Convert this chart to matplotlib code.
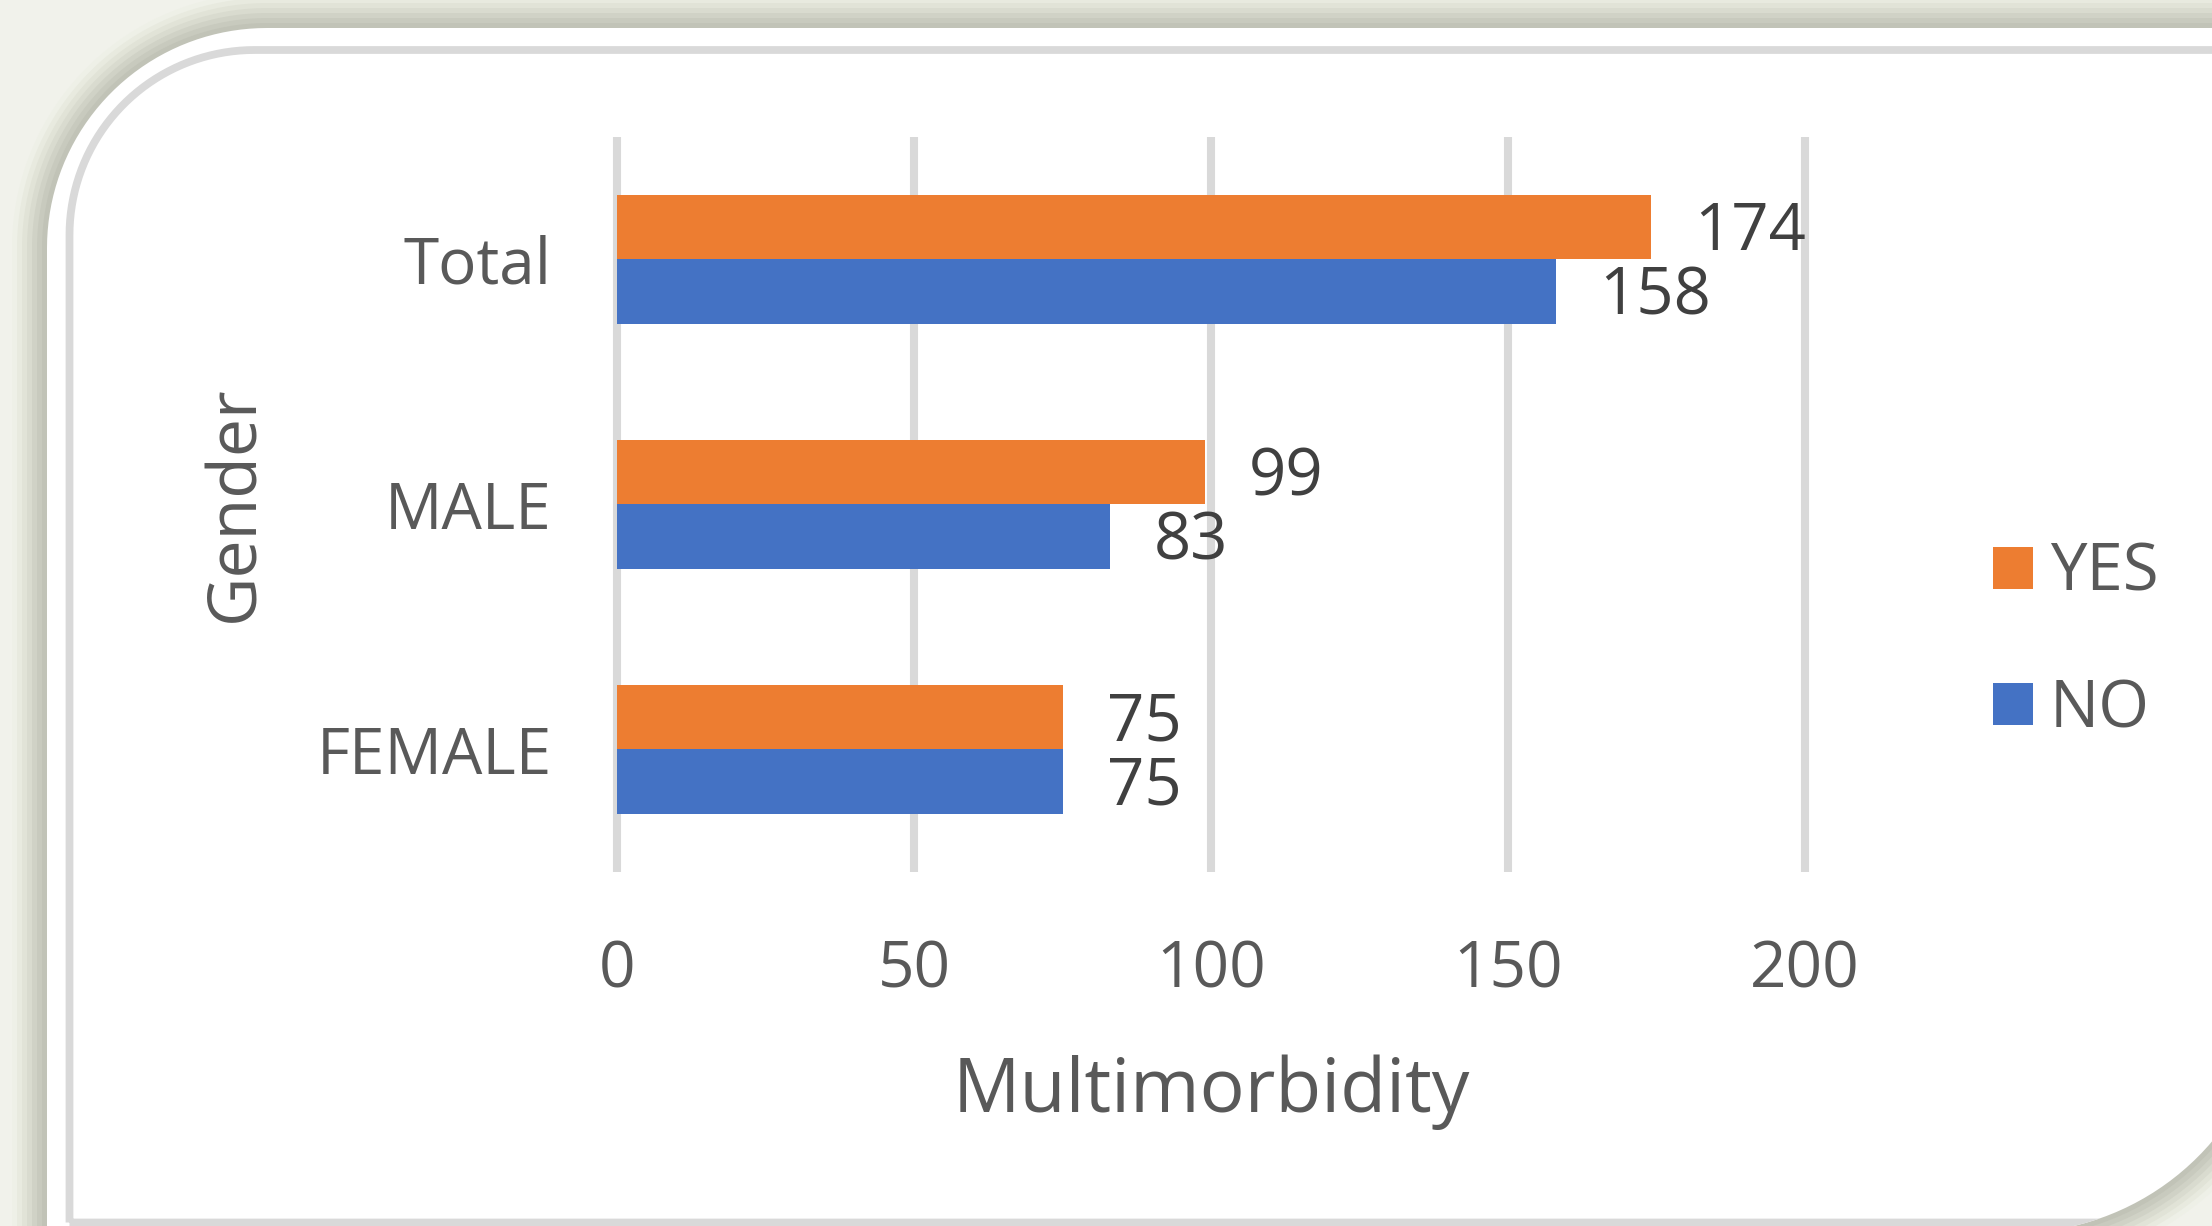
import numpy as np
import matplotlib.pyplot as plt
from matplotlib.patches import Polygon

plt.rcParams['font.family'] = ['Open Sans', 'DejaVu Sans']

categories = ['Total', 'MALE', 'FEMALE']
yes_values = [174, 99, 75]
no_values = [158, 83, 75]
x_ticks = [0, 50, 100, 150, 200]

ORANGE = '#ED7D31'
BLUE = '#4472C4'
GRID = '#d9d9d9'
TEXT = '#595959'

W, H = 2212, 1226
fig = plt.figure(figsize=(W / 100, H / 100), dpi=100)
fig.patch.set_facecolor('#f1f2eb')

# slide decoration: white card with a soft shadow and a thin grey frame
bg = fig.add_axes([0, 0, 1, 1], zorder=0)
bg.set_xlim(0, W)
bg.set_ylim(H, 0)
bg.axis('off')


def arc(cx, cy, r, t0, t1, n=40):
    t = np.linspace(t0, t1, n)
    return np.column_stack([cx + r * np.cos(t), cy + r * np.sin(t)])


def card_outline(grow=0):
    """Card shape in pixel coords: rounded top-left and bottom-right corners."""
    tl = arc(267, 248, 220 + grow, np.pi, 1.5 * np.pi)
    br = arc(2014, 973, 260 + grow, 0, 0.5 * np.pi)
    return np.array([*tl, (2274 + grow, 28 - grow), *br, (47 - grow, 1233 + grow)])


shadow = ['#eef0e7', '#e8eadf', '#e1e3d7', '#d9dbcf', '#d0d2c6', '#c8cabe', '#c1c3b7']
for i, c in enumerate(shadow):
    grow = (len(shadow) - i) * 5
    bg.add_patch(Polygon(card_outline(grow), closed=True, fc=c, ec='none'))
card = Polygon(card_outline(), closed=True, fc='white', ec='none')
bg.add_patch(card)

# grey frame: rounded only at the top-left, square at the bottom-left
frame_pts = np.array([(69.5, 1222.5), *arc(254.5, 235, 185, np.pi, 1.5 * np.pi),
                      (2400, 50), (2400, 1222.5)])
frame = Polygon(frame_pts, closed=True, fc='none', ec=GRID, lw=5.6, joinstyle='miter')
bg.add_patch(frame)
frame.set_clip_path(card)

# the chart itself
ax = fig.add_axes([617 / W, 1 - 872 / H, (1805 - 617) / W, (872 - 137) / H], zorder=1)
ax.set_facecolor('none')

y = np.arange(len(categories))
h = 0.263
ax.barh(y - h / 2, yes_values, height=h, color=ORANGE, label='YES', zorder=2)
ax.barh(y + h / 2, no_values, height=h, color=BLUE, label='NO', zorder=2)

ax.set_xlim(0, 200)
ax.set_ylim(2.5, -0.5)
ax.vlines(x_ticks, -0.5, 2.5, color=GRID, lw=5.8, zorder=1, clip_on=False)

ax.set_xticks(x_ticks)
ax.set_yticks(y)
ax.set_yticklabels(categories)
for s in ax.spines.values():
    s.set_visible(False)
ax.tick_params(length=0, colors=TEXT, labelsize=46)
ax.tick_params(axis='x', pad=48)
ax.tick_params(axis='y', pad=47)

# value labels just past the end of each bar
for vals, off in [(yes_values, -h / 2), (no_values, h / 2)]:
    for i, v in enumerate(vals):
        ax.annotate(str(v), (v, i + off), xytext=(44, -6), textcoords='offset pixels',
                    ha='left', va='center', fontsize=47, color='#404040')

ax.set_xlabel('Multimorbidity', fontsize=54, color=TEXT, va='baseline')
ax.xaxis.set_label_coords(1211 / W, 1 - 1112 / H, transform=fig.transFigure)
ax.set_ylabel('Gender', fontsize=49, color=TEXT, va='baseline')
ax.yaxis.set_label_coords(253 / W, 1 - 504 / H, transform=fig.transFigure)

ax.legend(loc='center left', bbox_to_anchor=(1993 / W, 1 - 642 / H),
          bbox_transform=fig.transFigure, frameon=False, fontsize=47,
          labelcolor=TEXT, handlelength=0.62, handleheight=0.62,
          handletextpad=0.25, labelspacing=1.08, borderpad=0, borderaxespad=0)

fig.savefig('out.png', dpi=100, facecolor=fig.get_facecolor())
